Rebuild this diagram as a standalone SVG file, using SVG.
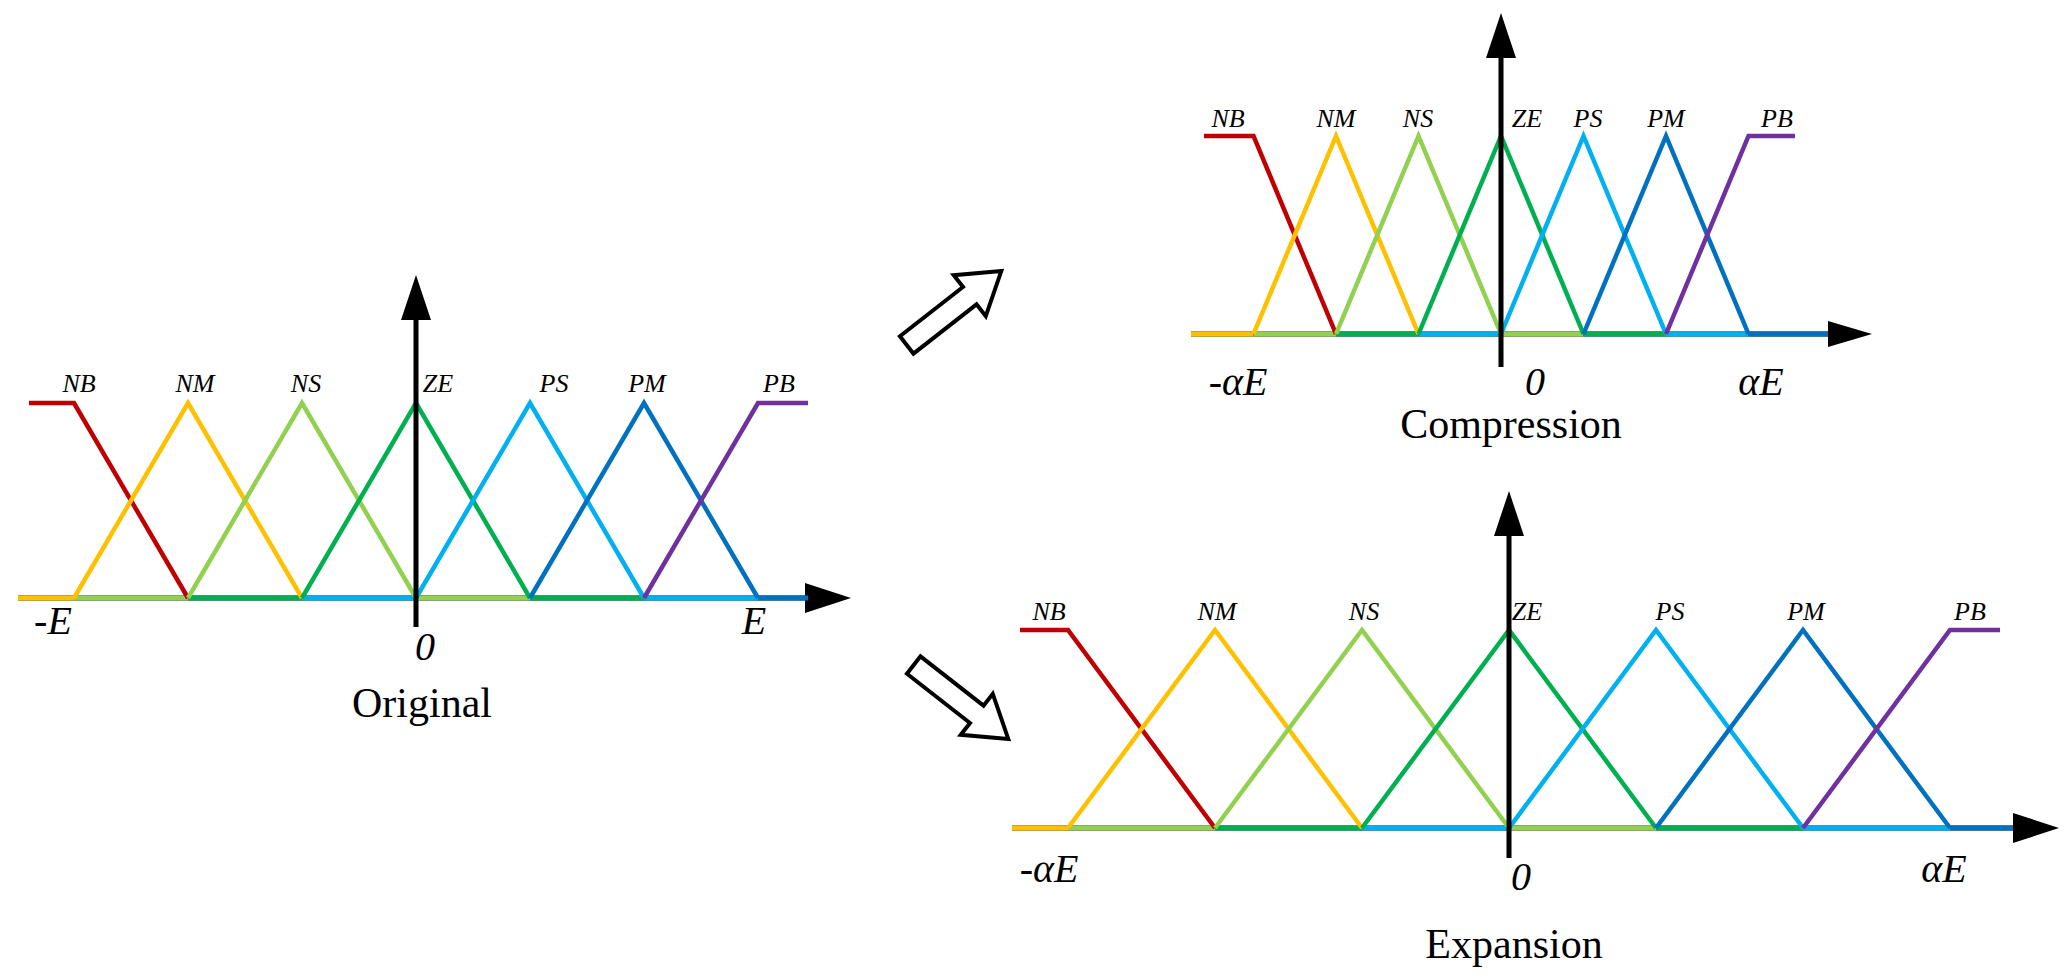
<svg xmlns="http://www.w3.org/2000/svg" width="2070" height="977" viewBox="0 0 2070 977">
<style>
.m{fill:none;stroke-width:4.5;stroke-linejoin:miter}
.b{fill:none;stroke-width:5}
.ax{stroke:#000;stroke-width:5;fill:none}
.ah{fill:#000}
.lb{font-family:"Liberation Serif",serif;font-style:italic;font-size:26px;text-anchor:middle}
.al{font-family:"Liberation Serif",serif;font-style:italic;font-size:40px;text-anchor:middle}
.ti{font-family:"Liberation Serif",serif;font-size:42px;text-anchor:middle}
.r{stroke:#C00000}.o{stroke:#FFC000}.lg{stroke:#92D050}.g{stroke:#00B050}.lbl{stroke:#00B0F0}.bl{stroke:#0070C0}.p{stroke:#7030A0}
.ha{fill:#fff;stroke:#000;stroke-width:4}
</style>
<rect width="2070" height="977" fill="#fff"/>
<g id="original">
<line class="ax" x1="18" y1="598" x2="820" y2="598"/><polygon class="ah" points="805,583 851,598 805,613"/>
<g class="b"><line class="o" x1="18" y1="598" x2="74" y2="598"/><line class="lg" x1="74" y1="598" x2="188" y2="598"/><line class="g" x1="188" y1="598" x2="302" y2="598"/><line class="lbl" x1="302" y1="598" x2="416" y2="598"/><line class="lg" x1="416" y1="598" x2="530" y2="598"/><line class="g" x1="530" y1="598" x2="644" y2="598"/><line class="lbl" x1="644" y1="598" x2="758" y2="598"/><line class="bl" x1="758" y1="598" x2="808" y2="598"/></g>
<polyline class="m r" points="29,403 74,403 188,598"/>
<polyline class="m o" points="74,598 188,403 302,598"/>
<polyline class="m lg" points="188,598 302,403 416,598"/>
<polyline class="m g" points="302,598 416,403 530,598"/>
<polyline class="m lbl" points="416,598 530,403 644,598"/>
<polyline class="m bl" points="530,598 644,403 758,598"/>
<polyline class="m p" points="644,598 758,403 808,403"/>
<line class="ax" x1="416" y1="627" x2="416" y2="318"/><polygon class="ah" points="401,320 416,275 431,320"/>
<text class="lb" x="79" y="392">NB</text><text class="lb" x="195" y="392">NM</text><text class="lb" x="306" y="392">NS</text><text class="lb" x="438" y="392">ZE</text><text class="lb" x="554" y="392">PS</text><text class="lb" x="647" y="392">PM</text><text class="lb" x="779" y="392">PB</text>
<text class="al" x="53" y="634">-E</text><text class="al" x="425" y="660">0</text><text class="al" x="754" y="634">E</text>
<text class="ti" x="422" y="717">Original</text>
</g>
<g id="compression">
<line class="ax" x1="1191" y1="334" x2="1835" y2="334"/><polygon class="ah" points="1828,321 1872,334 1828,347"/>
<g class="b"><line class="o" x1="1191" y1="334" x2="1253.5" y2="334"/><line class="lg" x1="1253.5" y1="334" x2="1336" y2="334"/><line class="g" x1="1336" y1="334" x2="1418.5" y2="334"/><line class="lbl" x1="1418.5" y1="334" x2="1501" y2="334"/><line class="lg" x1="1501" y1="334" x2="1583.5" y2="334"/><line class="g" x1="1583.5" y1="334" x2="1666" y2="334"/><line class="lbl" x1="1666" y1="334" x2="1748.5" y2="334"/><line class="bl" x1="1748.5" y1="334" x2="1828" y2="334"/></g>
<polyline class="m r" points="1204,136 1253.5,136 1336,334"/>
<polyline class="m o" points="1253.5,334 1336,136 1418.5,334"/>
<polyline class="m lg" points="1336,334 1418.5,136 1501,334"/>
<polyline class="m g" points="1418.5,334 1501,136 1583.5,334"/>
<polyline class="m lbl" points="1501,334 1583.5,136 1666,334"/>
<polyline class="m bl" points="1583.5,334 1666,136 1748.5,334"/>
<polyline class="m p" points="1666,334 1748.5,136 1795,136"/>
<line class="ax" x1="1501" y1="367" x2="1501" y2="56"/><polygon class="ah" points="1486,58 1501,13 1516,58"/>
<text class="lb" x="1228" y="127">NB</text><text class="lb" x="1336" y="127">NM</text><text class="lb" x="1418" y="127">NS</text><text class="lb" x="1527" y="127">ZE</text><text class="lb" x="1588" y="127">PS</text><text class="lb" x="1666" y="127">PM</text><text class="lb" x="1777" y="127">PB</text>
<text class="al" x="1238" y="395">-αE</text><text class="al" x="1535" y="395">0</text><text class="al" x="1761" y="395">αE</text>
<text class="ti" x="1511" y="438">Compression</text>
</g>
<g id="expansion">
<line class="ax" x1="1012" y1="828" x2="2020" y2="828"/><polygon class="ah" points="2013,813 2059,828 2013,843"/>
<g class="b"><line class="o" x1="1012" y1="828" x2="1068" y2="828"/><line class="lg" x1="1068" y1="828" x2="1215" y2="828"/><line class="g" x1="1215" y1="828" x2="1362" y2="828"/><line class="lbl" x1="1362" y1="828" x2="1509" y2="828"/><line class="lg" x1="1509" y1="828" x2="1656" y2="828"/><line class="g" x1="1656" y1="828" x2="1803" y2="828"/><line class="lbl" x1="1803" y1="828" x2="1950" y2="828"/><line class="bl" x1="1950" y1="828" x2="2013" y2="828"/></g>
<polyline class="m r" points="1020,630 1068,630 1215,828"/>
<polyline class="m o" points="1068,828 1215,630 1362,828"/>
<polyline class="m lg" points="1215,828 1362,630 1509,828"/>
<polyline class="m g" points="1362,828 1509,630 1656,828"/>
<polyline class="m lbl" points="1509,828 1656,630 1803,828"/>
<polyline class="m bl" points="1656,828 1803,630 1950,828"/>
<polyline class="m p" points="1803,828 1950,630 2000,630"/>
<line class="ax" x1="1509" y1="858" x2="1509" y2="534"/><polygon class="ah" points="1494,536 1509,491 1524,536"/>
<text class="lb" x="1049" y="620">NB</text><text class="lb" x="1217" y="620">NM</text><text class="lb" x="1364" y="620">NS</text><text class="lb" x="1527" y="620">ZE</text><text class="lb" x="1670" y="620">PS</text><text class="lb" x="1806" y="620">PM</text><text class="lb" x="1970" y="620">PB</text>
<text class="al" x="1049" y="882">-αE</text><text class="al" x="1521" y="890">0</text><text class="al" x="1944" y="882">αE</text>
<text class="ti" x="1514" y="958">Expansion</text>
</g>
<g id="connectors">
<polygon class="ha" transform="translate(954,308) rotate(-38)" points="-60,-11 20,-11 20,-26 60,0 20,26 20,11 -60,11"/>
<polygon class="ha" transform="translate(961,702) rotate(38)" points="-60,-11 20,-11 20,-26 60,0 20,26 20,11 -60,11"/>
</g>
</svg>
